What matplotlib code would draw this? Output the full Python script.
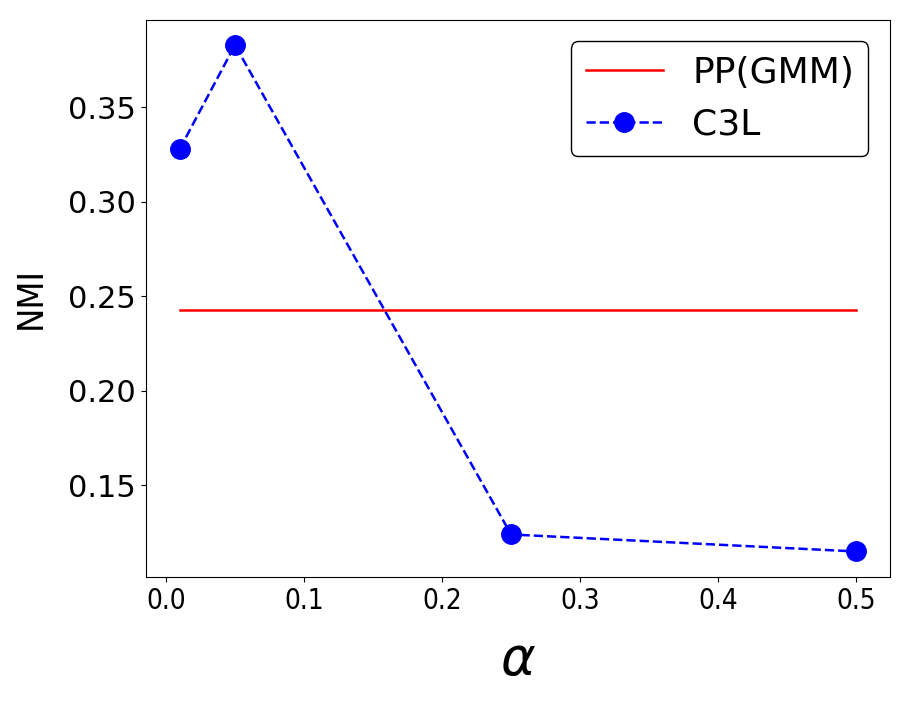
import matplotlib
matplotlib.use('Agg')
import matplotlib.pyplot as plt

# data
alphas = [0.01, 0.05, 0.25, 0.5]
nmi_c3l = [0.328, 0.383, 0.124, 0.115]
pp_gmm_x = [0.01, 0.5]
pp_gmm_nmi = [0.243, 0.243]

fig = plt.figure(figsize=(9.12, 7.06), dpi=100)
ax = fig.add_axes([0.160, 0.183, 0.816, 0.789])

ax.plot(pp_gmm_x, pp_gmm_nmi, color='red', linestyle='-', linewidth=1.8, label='PP(GMM)')
ax.plot(alphas, nmi_c3l, color='blue', linestyle='--', linewidth=1.8,
        marker='o', markersize=14, label='C3L')

ax.set_xticks([0.0, 0.1, 0.2, 0.3, 0.4, 0.5])
ax.set_xticklabels(['0.0', '0.1', '0.2', '0.3', '0.4', '0.5'],
                   fontsize=20, fontstretch='condensed')
ax.set_yticks([0.15, 0.20, 0.25, 0.30, 0.35])
ax.set_yticklabels(['0.15', '0.20', '0.25', '0.30', '0.35'], fontsize=22)

ax.set_xlabel(r'$\alpha$', fontsize=38, labelpad=14)
ax.set_ylabel('NMI', fontsize=26, fontstretch='condensed', labelpad=15)

ax.legend(fontsize=26, loc='upper right', edgecolor='black', framealpha=1,
          handlelength=2.15, borderaxespad=0.6)

plt.savefig('out.png', dpi=100)
